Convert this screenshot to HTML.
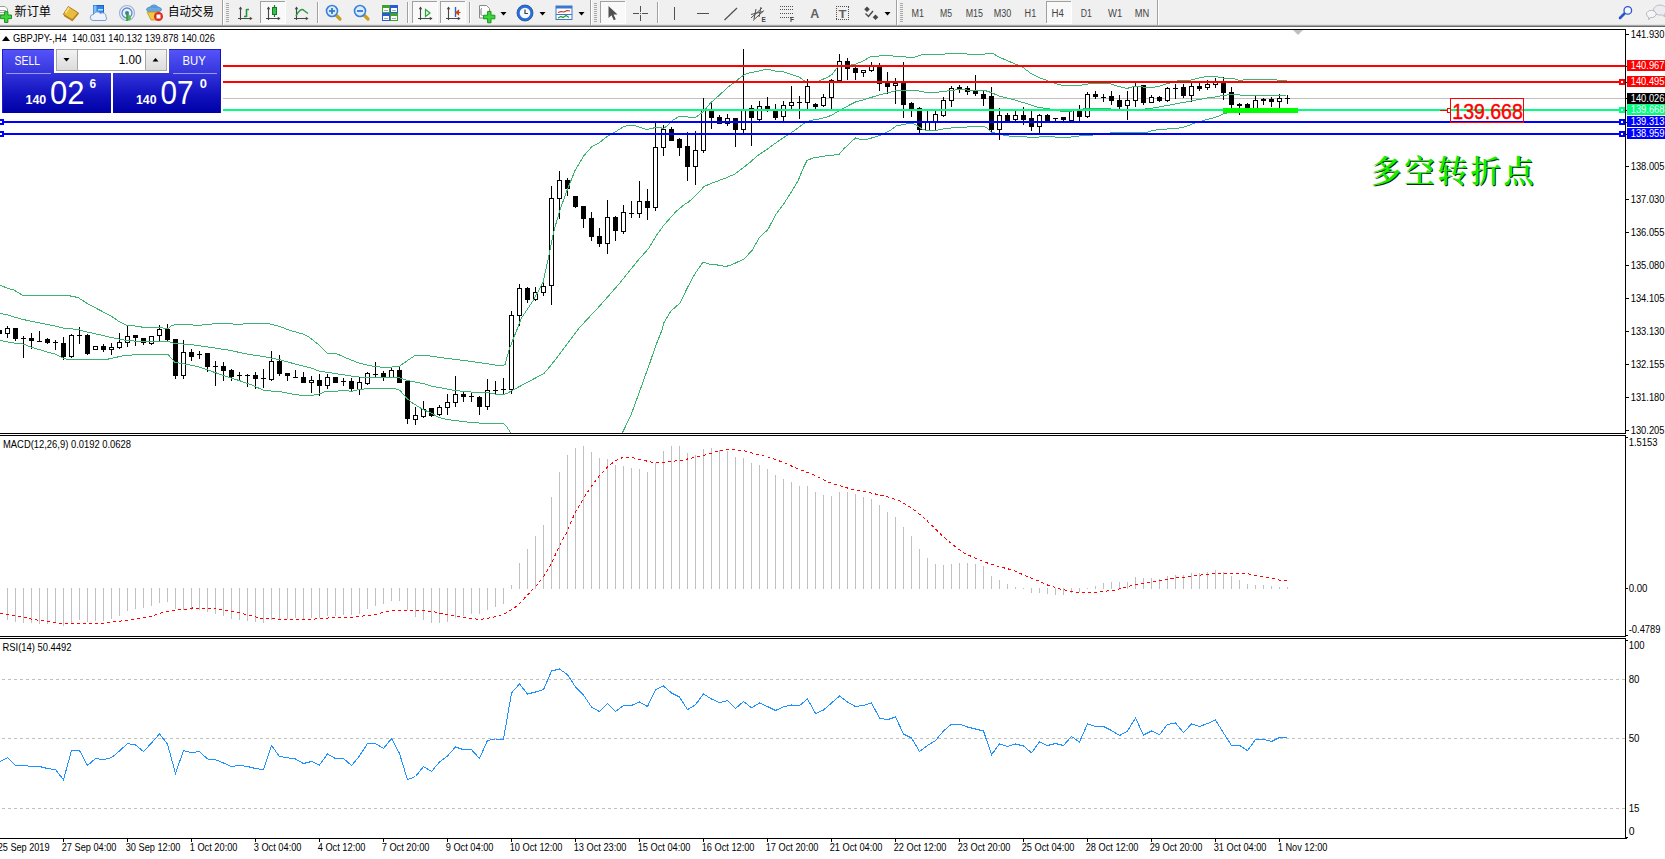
<!DOCTYPE html><html><head><meta charset="utf-8"><title>GBPJPY H4</title>
<style>html,body{margin:0;padding:0;background:#fff;overflow:hidden}svg{display:block}text{font-family:"Liberation Sans","Noto Sans CJK SC",sans-serif;white-space:pre}.cr{shape-rendering:crispEdges}.serif{font-family:"Liberation Serif","Noto Serif CJK SC",serif}</style></head><body>
<svg width="1665" height="859" viewBox="0 0 1665 859">
<defs>
<linearGradient id="gs" x1="0" y1="0" x2="0" y2="1"><stop offset="0" stop-color="#5555fa"/><stop offset="1" stop-color="#3434dc"/></linearGradient>
<linearGradient id="gp" x1="0" y1="0" x2="0" y2="1"><stop offset="0" stop-color="#3434dc"/><stop offset="0.55" stop-color="#1212be"/><stop offset="1" stop-color="#0000a6"/></linearGradient>
<linearGradient id="gb" x1="0" y1="0" x2="0" y2="1"><stop offset="0" stop-color="#f2f2f2"/><stop offset="1" stop-color="#dcdcdc"/></linearGradient>
<clipPath id="cm"><rect x="0" y="30" width="1625" height="403"/></clipPath>
<clipPath id="cd"><rect x="0" y="436" width="1625" height="200"/></clipPath>
<clipPath id="cr"><rect x="0" y="639" width="1625" height="199"/></clipPath>
</defs>
<rect x="0" y="0" width="1665" height="859" fill="#fff" />
<g class="cr">
<rect x="0" y="0" width="1665" height="25" fill="#f0f0f0"/>
<rect x="0" y="24" width="1665" height="1" fill="#e3e3e3"/>
<rect x="0" y="25" width="1665" height="1" fill="#a8a8a8"/>
<rect x="0" y="26" width="1665" height="1" fill="#6a6a6a"/>
<rect x="222" y="0" width="1" height="25" fill="#a0a0a0"/><rect x="223" y="0" width="1" height="25" fill="#fff"/>
<rect x="896" y="0" width="1" height="25" fill="#a0a0a0"/><rect x="897" y="0" width="1" height="25" fill="#fff"/>
<rect x="1157" y="0" width="1" height="25" fill="#a0a0a0"/><rect x="1158" y="0" width="1" height="25" fill="#fff"/>
<rect x="590" y="0" width="1" height="25" fill="#a0a0a0"/><rect x="591" y="0" width="1" height="25" fill="#fff"/>
<rect x="317" y="2" width="1" height="21" fill="#a0a0a0"/><rect x="318" y="2" width="1" height="21" fill="#fff"/>
<rect x="407" y="2" width="1" height="21" fill="#a0a0a0"/><rect x="408" y="2" width="1" height="21" fill="#fff"/>
<rect x="469" y="2" width="1" height="21" fill="#a0a0a0"/><rect x="470" y="2" width="1" height="21" fill="#fff"/>
<rect x="657" y="2" width="1" height="21" fill="#a0a0a0"/><rect x="658" y="2" width="1" height="21" fill="#fff"/>
<rect x="226" y="3" width="3" height="1" fill="#a8a8a8"/>
<rect x="226" y="5" width="3" height="1" fill="#a8a8a8"/>
<rect x="226" y="7" width="3" height="1" fill="#a8a8a8"/>
<rect x="226" y="9" width="3" height="1" fill="#a8a8a8"/>
<rect x="226" y="11" width="3" height="1" fill="#a8a8a8"/>
<rect x="226" y="13" width="3" height="1" fill="#a8a8a8"/>
<rect x="226" y="15" width="3" height="1" fill="#a8a8a8"/>
<rect x="226" y="17" width="3" height="1" fill="#a8a8a8"/>
<rect x="226" y="19" width="3" height="1" fill="#a8a8a8"/>
<rect x="226" y="21" width="3" height="1" fill="#a8a8a8"/>
<rect x="594" y="3" width="3" height="1" fill="#a8a8a8"/>
<rect x="594" y="5" width="3" height="1" fill="#a8a8a8"/>
<rect x="594" y="7" width="3" height="1" fill="#a8a8a8"/>
<rect x="594" y="9" width="3" height="1" fill="#a8a8a8"/>
<rect x="594" y="11" width="3" height="1" fill="#a8a8a8"/>
<rect x="594" y="13" width="3" height="1" fill="#a8a8a8"/>
<rect x="594" y="15" width="3" height="1" fill="#a8a8a8"/>
<rect x="594" y="17" width="3" height="1" fill="#a8a8a8"/>
<rect x="594" y="19" width="3" height="1" fill="#a8a8a8"/>
<rect x="594" y="21" width="3" height="1" fill="#a8a8a8"/>
<rect x="900" y="3" width="3" height="1" fill="#a8a8a8"/>
<rect x="900" y="5" width="3" height="1" fill="#a8a8a8"/>
<rect x="900" y="7" width="3" height="1" fill="#a8a8a8"/>
<rect x="900" y="9" width="3" height="1" fill="#a8a8a8"/>
<rect x="900" y="11" width="3" height="1" fill="#a8a8a8"/>
<rect x="900" y="13" width="3" height="1" fill="#a8a8a8"/>
<rect x="900" y="15" width="3" height="1" fill="#a8a8a8"/>
<rect x="900" y="17" width="3" height="1" fill="#a8a8a8"/>
<rect x="900" y="19" width="3" height="1" fill="#a8a8a8"/>
<rect x="900" y="21" width="3" height="1" fill="#a8a8a8"/>
<rect x="260" y="1" width="26" height="23" fill="#f9f9f9"/>
<rect x="260" y="1" width="26" height="1" fill="#a0a0a0"/><rect x="260" y="1" width="1" height="23" fill="#a0a0a0"/>
<rect x="260" y="23" width="26" height="1" fill="#fff"/><rect x="285" y="1" width="1" height="23" fill="#fff"/>
<rect x="412" y="1" width="26" height="23" fill="#f9f9f9"/>
<rect x="412" y="1" width="26" height="1" fill="#a0a0a0"/><rect x="412" y="1" width="1" height="23" fill="#a0a0a0"/>
<rect x="412" y="23" width="26" height="1" fill="#fff"/><rect x="437" y="1" width="1" height="23" fill="#fff"/>
<rect x="440" y="1" width="26" height="23" fill="#f9f9f9"/>
<rect x="440" y="1" width="26" height="1" fill="#a0a0a0"/><rect x="440" y="1" width="1" height="23" fill="#a0a0a0"/>
<rect x="440" y="23" width="26" height="1" fill="#fff"/><rect x="465" y="1" width="1" height="23" fill="#fff"/>
<rect x="600" y="1" width="26" height="23" fill="#f9f9f9"/>
<rect x="600" y="1" width="26" height="1" fill="#a0a0a0"/><rect x="600" y="1" width="1" height="23" fill="#a0a0a0"/>
<rect x="600" y="23" width="26" height="1" fill="#fff"/><rect x="625" y="1" width="1" height="23" fill="#fff"/>
<rect x="1046" y="1" width="26" height="23" fill="#f9f9f9"/>
<rect x="1046" y="1" width="26" height="1" fill="#a0a0a0"/><rect x="1046" y="1" width="1" height="23" fill="#a0a0a0"/>
<rect x="1046" y="23" width="26" height="1" fill="#fff"/><rect x="1071" y="1" width="1" height="23" fill="#fff"/>
</g>
<g><path d="M-0.5 6.5h5.5l2.5 2.5v6h-8z" fill="#fff" stroke="#9a9a9a"/><path d="M0 10.5h6M0 12.5h6" stroke="#a8a8a8" stroke-width="1"/><path d="M4.6 11.6h3.3v3.4h3.6v3.6h-3.6v3.9h-3.3v-3.9h-4.2v-3.6h4.2z" fill="#3ad63a" stroke="#128a12" stroke-width="0.9"/></g>
<text x="14.5" y="16" font-size="12" fill="#000" textLength="36.5" lengthAdjust="spacingAndGlyphs">新订单</text>
<path d="M63.3 14.3l5-7.8 10.2 6.5-6.3 7.3z" fill="#e8bc3c" stroke="#a8741a" stroke-width="0.9"/><path d="M64 15.2l8.3 5 6-7" fill="none" stroke="#b8801c" stroke-width="1.6"/><path d="M65.5 13l3.5-5.5" stroke="#f9e28a" stroke-width="1.6"/>
<rect x="93.5" y="5.5" width="10" height="9.5" fill="#2f86e6" stroke="#1f62c0"/><rect x="93.5" y="5.5" width="3" height="9.5" fill="#7cc0ff"/><rect x="98" y="9" width="5" height="1.5" fill="#bfe0ff"/><path d="M93 20.5a3 3 0 0 1 0.5-6a4 4 0 0 1 7-1a3.5 3.5 0 0 1 5.5 3.5a2 2 0 0 1-1 3.5z" fill="#eef3fb" stroke="#7f9fd0" stroke-width="1"/>
<circle cx="127" cy="13" r="7.5" fill="none" stroke="#9bb4dc" stroke-width="1.2"/><circle cx="127" cy="13" r="5" fill="none" stroke="#5b88d0" stroke-width="1.3"/><path d="M127 13a7.5 7.5 0 0 1 4 6.5l-4 1.5z" fill="#58b858"/><circle cx="127" cy="13" r="2" fill="#3a78d0"/><path d="M127 13v8" stroke="#3a9a3a" stroke-width="1.6"/>
<ellipse cx="154" cy="9.5" rx="7.5" ry="3" fill="#6aa8e0" stroke="#3a78c0" stroke-width="0.8"/><path d="M150 8a4 3.5 0 0 1 8 0z" fill="#5a9ad8"/><path d="M147 12h13l-3 8h-6z" fill="#f2c84a" stroke="#c09020" stroke-width="0.8"/><circle cx="158.5" cy="16.5" r="4.5" fill="#e02a1a"/><rect x="156.5" y="14.5" width="4" height="4" fill="#fff"/>
<text x="168" y="16" font-size="12" fill="#000" textLength="46" lengthAdjust="spacingAndGlyphs">自动交易</text>
<path d="M240.5 7v13M238 18.5h14" stroke="#484848" stroke-width="1.1" fill="none"/><path d="M238.7 9.2l1.8-2.8 1.8 2.8zM249.8 16.8l2.8 1.7-2.8 1.7z" fill="#484848"/><path d="M246.5 9v8M246.5 9.5h2.5M244 16.5h2.5" stroke="#1e9a3c" stroke-width="1.6" fill="none"/>
<path d="M268.5 7v13M266 18.5h14" stroke="#484848" stroke-width="1.1" fill="none"/><path d="M266.7 9.2l1.8-2.8 1.8 2.8zM277.8 16.8l2.8 1.7-2.8 1.7z" fill="#484848"/><path d="M274.5 5v12" stroke="#157a2a" stroke-width="1.2"/><rect x="272.5" y="7.5" width="4" height="7" fill="#35c04a" stroke="#157a2a"/>
<path d="M296.5 7v13M294 18.5h14" stroke="#484848" stroke-width="1.1" fill="none"/><path d="M294.7 9.2l1.8-2.8 1.8 2.8zM305.8 16.8l2.8 1.7-2.8 1.7z" fill="#484848"/><path d="M296 16c3-6 6-8 8-5.5l4 3" stroke="#2a9a40" stroke-width="1.4" fill="none"/>
<path d="M334 13l6 6" stroke="#c8a020" stroke-width="3.2" stroke-linecap="round"/><circle cx="332" cy="11" r="5.5" fill="#d8ecff" stroke="#3a80d8" stroke-width="1.6"/><path d="M329 11h6" stroke="#3a78c8" stroke-width="1.8"/><path d="M332 8v6" stroke="#3a78c8" stroke-width="1.8"/>
<path d="M362 13l6 6" stroke="#c8a020" stroke-width="3.2" stroke-linecap="round"/><circle cx="360" cy="11" r="5.5" fill="#d8ecff" stroke="#3a80d8" stroke-width="1.6"/><path d="M357 11h6" stroke="#3a78c8" stroke-width="1.8"/>
<g class="cr"><rect x="382" y="5" width="8" height="8" fill="#3aa52a"/><rect x="390" y="5" width="8" height="8" fill="#2a5ad8"/><rect x="382" y="13" width="8" height="8" fill="#2a5ad8"/><rect x="390" y="13" width="8" height="8" fill="#3aa52a"/><rect x="383" y="8" width="6" height="4" fill="#fff"/><rect x="391" y="8" width="6" height="4" fill="#fff"/><rect x="383" y="16" width="6" height="4" fill="#fff"/><rect x="391" y="16" width="6" height="4" fill="#fff"/><rect x="384" y="10" width="4" height="1" fill="#9ab"/><rect x="392" y="10" width="4" height="1" fill="#9ab"/><rect x="384" y="18" width="4" height="1" fill="#9ab"/><rect x="392" y="18" width="4" height="1" fill="#9ab"/></g>
<path d="M420.5 7v13M418 18.5h14" stroke="#484848" stroke-width="1.1" fill="none"/><path d="M418.7 9.2l1.8-2.8 1.8 2.8zM429.8 16.8l2.8 1.7-2.8 1.7z" fill="#484848"/><path d="M425.5 9.5l4.5 3.5-4.5 3.5z" fill="#e8ffe8" stroke="#28a838" stroke-width="1.2"/>
<path d="M448.5 7v13M446 18.5h14" stroke="#484848" stroke-width="1.1" fill="none"/><path d="M446.7 9.2l1.8-2.8 1.8 2.8zM457.8 16.8l2.8 1.7-2.8 1.7z" fill="#484848"/><path d="M455.5 7v10" stroke="#2a68c0" stroke-width="1.4"/><path d="M460.5 12.5h-4M458.5 10.5l-2.5 2 2.5 2z" stroke="#d04010" stroke-width="1.2" fill="#d04010"/>
<path d="M479.5 5.5h7l3 3v9.5h-10z" fill="#fff" stroke="#8a8a8a"/><path d="M482 8.5c-1 0-1 1-1 2v3c0 1 0 2 1.5 2" fill="none" stroke="#707070"/><path d="M487.6 11.4h3.4v3.8h3.9v3.6h-3.9v4h-3.4v-4h-4v-3.6h4z" fill="#3ad63a" stroke="#128a12" stroke-width="0.9"/>
<path d="M500.5 12h6l-3 3.5z" fill="#000"/>
<circle cx="525" cy="13" r="8" fill="#2a70d8" stroke="#1a4ca0" stroke-width="0.8"/><circle cx="525" cy="13" r="5.3" fill="#f4f8ff"/><path d="M525 9.5v4h3" stroke="#404040" stroke-width="1.2" fill="none"/>
<path d="M539.5 12h6l-3 3.5z" fill="#000"/>
<rect x="556" y="6" width="16" height="13.5" fill="#fff" stroke="#3a78d0" stroke-width="1"/><rect x="556" y="6" width="16" height="2.5" fill="#3a78d0"/><path d="M556 14.5h16" stroke="#3a78d0" stroke-width="1"/><path d="M558 12.5l3-1 3 0.5 3-1.5 3 0.5" stroke="#c03020" stroke-width="1.2" fill="none"/><path d="M558 18l3-1.5 2 1 3-2 3 2" stroke="#209a30" stroke-width="1.2" fill="none"/>
<path d="M578.5 12h6l-3 3.5z" fill="#000"/>
<path d="M608.5 6v12l3-2.8 2.3 5 2-1-2.3-4.8h4z" fill="#505050"/>
<g class="cr"><rect x="640" y="6" width="1" height="15" fill="#505050"/><rect x="633" y="13" width="15" height="1" fill="#505050"/><rect x="639" y="12" width="3" height="3" fill="#f0f0f0"/><rect x="640" y="13" width="1" height="1" fill="#505050"/></g>
<g class="cr"><rect x="674" y="7" width="1" height="13" fill="#505050"/><rect x="697" y="13" width="12" height="1" fill="#505050"/></g>
<path d="M724.5 20l12.5-12" stroke="#505050" stroke-width="1.2"/>
<path d="M751 18l11-10M753 20.5l11-10M751 14.5l12-3M754 19l2-10M759 17l2-10" stroke="#505050" stroke-width="1" fill="none"/><text x="761.5" y="21.5" font-size="6.5" font-weight="bold" fill="#404040">E</text>
<g class="cr"><rect x="780" y="6" width="1" height="1" fill="#505050"/><rect x="782" y="6" width="1" height="1" fill="#505050"/><rect x="784" y="6" width="1" height="1" fill="#505050"/><rect x="786" y="6" width="1" height="1" fill="#505050"/><rect x="788" y="6" width="1" height="1" fill="#505050"/><rect x="790" y="6" width="1" height="1" fill="#505050"/><rect x="792" y="6" width="1" height="1" fill="#505050"/><rect x="780" y="9" width="1" height="1" fill="#505050"/><rect x="782" y="9" width="1" height="1" fill="#505050"/><rect x="784" y="9" width="1" height="1" fill="#505050"/><rect x="786" y="9" width="1" height="1" fill="#505050"/><rect x="788" y="9" width="1" height="1" fill="#505050"/><rect x="790" y="9" width="1" height="1" fill="#505050"/><rect x="792" y="9" width="1" height="1" fill="#505050"/><rect x="780" y="13" width="1" height="1" fill="#505050"/><rect x="782" y="13" width="1" height="1" fill="#505050"/><rect x="784" y="13" width="1" height="1" fill="#505050"/><rect x="786" y="13" width="1" height="1" fill="#505050"/><rect x="788" y="13" width="1" height="1" fill="#505050"/><rect x="790" y="13" width="1" height="1" fill="#505050"/><rect x="792" y="13" width="1" height="1" fill="#505050"/><rect x="780" y="17" width="1" height="1" fill="#505050"/><rect x="782" y="17" width="1" height="1" fill="#505050"/><rect x="784" y="17" width="1" height="1" fill="#505050"/><rect x="786" y="17" width="1" height="1" fill="#505050"/><rect x="788" y="17" width="1" height="1" fill="#505050"/><rect x="790" y="17" width="1" height="1" fill="#505050"/><rect x="792" y="17" width="1" height="1" fill="#505050"/></g><text x="790" y="21.5" font-size="6.5" font-weight="bold" fill="#404040">F</text>
<text x="810.2" y="17.8" font-size="12" font-weight="bold" fill="#606060" textLength="9" lengthAdjust="spacingAndGlyphs">A</text>
<g class="cr"><rect x="836" y="6" width="1" height="1" fill="#505050"/><rect x="836" y="19" width="1" height="1" fill="#505050"/><rect x="838" y="6" width="1" height="1" fill="#505050"/><rect x="838" y="19" width="1" height="1" fill="#505050"/><rect x="840" y="6" width="1" height="1" fill="#505050"/><rect x="840" y="19" width="1" height="1" fill="#505050"/><rect x="842" y="6" width="1" height="1" fill="#505050"/><rect x="842" y="19" width="1" height="1" fill="#505050"/><rect x="844" y="6" width="1" height="1" fill="#505050"/><rect x="844" y="19" width="1" height="1" fill="#505050"/><rect x="846" y="6" width="1" height="1" fill="#505050"/><rect x="846" y="19" width="1" height="1" fill="#505050"/><rect x="848" y="6" width="1" height="1" fill="#505050"/><rect x="848" y="19" width="1" height="1" fill="#505050"/><rect x="836" y="6" width="1" height="1" fill="#505050"/><rect x="848" y="7" width="1" height="1" fill="#505050"/><rect x="836" y="8" width="1" height="1" fill="#505050"/><rect x="848" y="9" width="1" height="1" fill="#505050"/><rect x="836" y="10" width="1" height="1" fill="#505050"/><rect x="848" y="11" width="1" height="1" fill="#505050"/><rect x="836" y="12" width="1" height="1" fill="#505050"/><rect x="848" y="13" width="1" height="1" fill="#505050"/><rect x="836" y="14" width="1" height="1" fill="#505050"/><rect x="848" y="15" width="1" height="1" fill="#505050"/><rect x="836" y="16" width="1" height="1" fill="#505050"/><rect x="848" y="17" width="1" height="1" fill="#505050"/><rect x="836" y="18" width="1" height="1" fill="#505050"/><rect x="848" y="19" width="1" height="1" fill="#505050"/></g><text x="838.5" y="17.5" font-size="11.5" font-weight="bold" fill="#606060" textLength="8" lengthAdjust="spacingAndGlyphs">T</text>
<path d="M867 6.5l2.8 2.8-2.8 2.8-2.8-2.8zM875.5 14.5l2.8 2.8-2.8 2.8-2.8-2.8z" fill="#484848"/><path d="M865.5 13.5l3 3 4.5-5.5" stroke="#484848" stroke-width="1.4" fill="none"/>
<path d="M884.5 12h6l-3 3.5z" fill="#000"/>
<text x="911.5" y="16.7" font-size="10" fill="#454545" textLength="12.5" lengthAdjust="spacingAndGlyphs">M1</text>
<text x="940" y="16.7" font-size="10" fill="#454545" textLength="12" lengthAdjust="spacingAndGlyphs">M5</text>
<text x="965.7" y="16.7" font-size="10" fill="#454545" textLength="17.3" lengthAdjust="spacingAndGlyphs">M15</text>
<text x="993.7" y="16.7" font-size="10" fill="#454545" textLength="17.6" lengthAdjust="spacingAndGlyphs">M30</text>
<text x="1024.6" y="16.7" font-size="10" fill="#454545" textLength="11.6" lengthAdjust="spacingAndGlyphs">H1</text>
<text x="1051.4" y="16.7" font-size="10" fill="#454545" textLength="12.4" lengthAdjust="spacingAndGlyphs">H4</text>
<text x="1080.8" y="16.7" font-size="10" fill="#454545" textLength="11.1" lengthAdjust="spacingAndGlyphs">D1</text>
<text x="1108" y="16.7" font-size="10" fill="#454545" textLength="14.2" lengthAdjust="spacingAndGlyphs">W1</text>
<text x="1134.7" y="16.7" font-size="10" fill="#454545" textLength="14.5" lengthAdjust="spacingAndGlyphs">MN</text>
<path d="M1624.5 13.5l-4.5 4.5" stroke="#2a55cc" stroke-width="2.6" stroke-linecap="round"/><circle cx="1627.8" cy="10.4" r="3.8" fill="#f4f7ff" stroke="#2a55cc" stroke-width="1.3"/>
<path d="M1653.5 10a6.5 5 0 0 1 13 0a6.5 5 0 0 1-2.5 4.3l0.8 2.4-3-1.8a6.5 5 0 0 1-8.3-4.9z" fill="#ececf2" stroke="#b0b0b8" stroke-width="0.8"/><path d="M1646.5 14a4.8 3.6 0 1 1 3.8 3.5l-1.5 2.2-0.2-2.5a4.8 3.6 0 0 1-2.1-3.2z" fill="#f6f6fa" stroke="#a8a8b0" stroke-width="0.8"/>
<g class="cr">
<rect x="0" y="98" width="1625" height="1" fill="#c0c0c0" />
<line x1="0" y1="679.5" x2="1625" y2="679.5" stroke="#c0c0c0" stroke-width="1" stroke-dasharray="3 3" stroke-dashoffset="-2"/>
<line x1="0" y1="738.5" x2="1625" y2="738.5" stroke="#c0c0c0" stroke-width="1" stroke-dasharray="3 3" stroke-dashoffset="-2"/>
<line x1="0" y1="808.5" x2="1625" y2="808.5" stroke="#c0c0c0" stroke-width="1" stroke-dasharray="3 3" stroke-dashoffset="-2"/>
</g>
<g class="cr" clip-path="url(#cd)">
<rect x="7" y="588" width="1" height="32" fill="#c0c0c0" />
<rect x="15" y="588" width="1" height="34" fill="#c0c0c0" />
<rect x="23" y="588" width="1" height="35" fill="#c0c0c0" />
<rect x="31" y="588" width="1" height="35" fill="#c0c0c0" />
<rect x="39" y="588" width="1" height="36" fill="#c0c0c0" />
<rect x="47" y="588" width="1" height="36" fill="#c0c0c0" />
<rect x="55" y="588" width="1" height="35" fill="#c0c0c0" />
<rect x="63" y="588" width="1" height="38" fill="#c0c0c0" />
<rect x="71" y="588" width="1" height="36" fill="#c0c0c0" />
<rect x="79" y="588" width="1" height="32" fill="#c0c0c0" />
<rect x="87" y="588" width="1" height="34" fill="#c0c0c0" />
<rect x="95" y="588" width="1" height="33" fill="#c0c0c0" />
<rect x="103" y="588" width="1" height="33" fill="#c0c0c0" />
<rect x="111" y="588" width="1" height="31" fill="#c0c0c0" />
<rect x="119" y="588" width="1" height="28" fill="#c0c0c0" />
<rect x="127" y="588" width="1" height="23" fill="#c0c0c0" />
<rect x="135" y="588" width="1" height="21" fill="#c0c0c0" />
<rect x="143" y="588" width="1" height="20" fill="#c0c0c0" />
<rect x="151" y="588" width="1" height="18" fill="#c0c0c0" />
<rect x="159" y="588" width="1" height="15" fill="#c0c0c0" />
<rect x="167" y="588" width="1" height="14" fill="#c0c0c0" />
<rect x="175" y="588" width="1" height="21" fill="#c0c0c0" />
<rect x="183" y="588" width="1" height="22" fill="#c0c0c0" />
<rect x="191" y="588" width="1" height="22" fill="#c0c0c0" />
<rect x="199" y="588" width="1" height="22" fill="#c0c0c0" />
<rect x="207" y="588" width="1" height="24" fill="#c0c0c0" />
<rect x="215" y="588" width="1" height="26" fill="#c0c0c0" />
<rect x="223" y="588" width="1" height="28" fill="#c0c0c0" />
<rect x="231" y="588" width="1" height="31" fill="#c0c0c0" />
<rect x="239" y="588" width="1" height="32" fill="#c0c0c0" />
<rect x="247" y="588" width="1" height="33" fill="#c0c0c0" />
<rect x="255" y="588" width="1" height="34" fill="#c0c0c0" />
<rect x="263" y="588" width="1" height="35" fill="#c0c0c0" />
<rect x="271" y="588" width="1" height="32" fill="#c0c0c0" />
<rect x="279" y="588" width="1" height="31" fill="#c0c0c0" />
<rect x="287" y="588" width="1" height="31" fill="#c0c0c0" />
<rect x="295" y="588" width="1" height="30" fill="#c0c0c0" />
<rect x="303" y="588" width="1" height="31" fill="#c0c0c0" />
<rect x="311" y="588" width="1" height="30" fill="#c0c0c0" />
<rect x="319" y="588" width="1" height="30" fill="#c0c0c0" />
<rect x="327" y="588" width="1" height="28" fill="#c0c0c0" />
<rect x="335" y="588" width="1" height="28" fill="#c0c0c0" />
<rect x="343" y="588" width="1" height="27" fill="#c0c0c0" />
<rect x="351" y="588" width="1" height="27" fill="#c0c0c0" />
<rect x="359" y="588" width="1" height="26" fill="#c0c0c0" />
<rect x="367" y="588" width="1" height="21" fill="#c0c0c0" />
<rect x="375" y="588" width="1" height="18" fill="#c0c0c0" />
<rect x="383" y="588" width="1" height="16" fill="#c0c0c0" />
<rect x="391" y="588" width="1" height="13" fill="#c0c0c0" />
<rect x="399" y="588" width="1" height="13" fill="#c0c0c0" />
<rect x="407" y="588" width="1" height="22" fill="#c0c0c0" />
<rect x="415" y="588" width="1" height="29" fill="#c0c0c0" />
<rect x="423" y="588" width="1" height="32" fill="#c0c0c0" />
<rect x="431" y="588" width="1" height="35" fill="#c0c0c0" />
<rect x="439" y="588" width="1" height="35" fill="#c0c0c0" />
<rect x="447" y="588" width="1" height="34" fill="#c0c0c0" />
<rect x="455" y="588" width="1" height="30" fill="#c0c0c0" />
<rect x="463" y="588" width="1" height="28" fill="#c0c0c0" />
<rect x="471" y="588" width="1" height="26" fill="#c0c0c0" />
<rect x="479" y="588" width="1" height="26" fill="#c0c0c0" />
<rect x="487" y="588" width="1" height="22" fill="#c0c0c0" />
<rect x="495" y="588" width="1" height="19" fill="#c0c0c0" />
<rect x="503" y="588" width="1" height="16" fill="#c0c0c0" />
<rect x="511" y="585" width="1" height="4" fill="#c0c0c0" />
<rect x="519" y="563" width="1" height="26" fill="#c0c0c0" />
<rect x="527" y="549" width="1" height="40" fill="#c0c0c0" />
<rect x="535" y="536" width="1" height="53" fill="#c0c0c0" />
<rect x="543" y="525" width="1" height="64" fill="#c0c0c0" />
<rect x="551" y="497" width="1" height="92" fill="#c0c0c0" />
<rect x="559" y="472" width="1" height="117" fill="#c0c0c0" />
<rect x="567" y="455" width="1" height="134" fill="#c0c0c0" />
<rect x="575" y="448" width="1" height="141" fill="#c0c0c0" />
<rect x="583" y="446" width="1" height="143" fill="#c0c0c0" />
<rect x="591" y="452" width="1" height="137" fill="#c0c0c0" />
<rect x="599" y="458" width="1" height="131" fill="#c0c0c0" />
<rect x="607" y="459" width="1" height="130" fill="#c0c0c0" />
<rect x="615" y="465" width="1" height="124" fill="#c0c0c0" />
<rect x="623" y="466" width="1" height="123" fill="#c0c0c0" />
<rect x="631" y="468" width="1" height="121" fill="#c0c0c0" />
<rect x="639" y="469" width="1" height="120" fill="#c0c0c0" />
<rect x="647" y="472" width="1" height="117" fill="#c0c0c0" />
<rect x="655" y="463" width="1" height="126" fill="#c0c0c0" />
<rect x="663" y="451" width="1" height="138" fill="#c0c0c0" />
<rect x="671" y="446" width="1" height="143" fill="#c0c0c0" />
<rect x="679" y="446" width="1" height="143" fill="#c0c0c0" />
<rect x="687" y="453" width="1" height="136" fill="#c0c0c0" />
<rect x="695" y="455" width="1" height="134" fill="#c0c0c0" />
<rect x="703" y="449" width="1" height="140" fill="#c0c0c0" />
<rect x="711" y="448" width="1" height="141" fill="#c0c0c0" />
<rect x="719" y="450" width="1" height="139" fill="#c0c0c0" />
<rect x="727" y="451" width="1" height="138" fill="#c0c0c0" />
<rect x="735" y="457" width="1" height="132" fill="#c0c0c0" />
<rect x="743" y="458" width="1" height="131" fill="#c0c0c0" />
<rect x="751" y="463" width="1" height="126" fill="#c0c0c0" />
<rect x="759" y="465" width="1" height="124" fill="#c0c0c0" />
<rect x="767" y="469" width="1" height="120" fill="#c0c0c0" />
<rect x="775" y="475" width="1" height="114" fill="#c0c0c0" />
<rect x="783" y="479" width="1" height="110" fill="#c0c0c0" />
<rect x="791" y="482" width="1" height="107" fill="#c0c0c0" />
<rect x="799" y="486" width="1" height="103" fill="#c0c0c0" />
<rect x="807" y="486" width="1" height="103" fill="#c0c0c0" />
<rect x="815" y="492" width="1" height="97" fill="#c0c0c0" />
<rect x="823" y="495" width="1" height="94" fill="#c0c0c0" />
<rect x="831" y="496" width="1" height="93" fill="#c0c0c0" />
<rect x="839" y="492" width="1" height="97" fill="#c0c0c0" />
<rect x="847" y="492" width="1" height="97" fill="#c0c0c0" />
<rect x="855" y="494" width="1" height="95" fill="#c0c0c0" />
<rect x="863" y="497" width="1" height="92" fill="#c0c0c0" />
<rect x="871" y="499" width="1" height="90" fill="#c0c0c0" />
<rect x="879" y="505" width="1" height="84" fill="#c0c0c0" />
<rect x="887" y="512" width="1" height="77" fill="#c0c0c0" />
<rect x="895" y="517" width="1" height="72" fill="#c0c0c0" />
<rect x="903" y="527" width="1" height="62" fill="#c0c0c0" />
<rect x="911" y="536" width="1" height="53" fill="#c0c0c0" />
<rect x="919" y="549" width="1" height="40" fill="#c0c0c0" />
<rect x="927" y="558" width="1" height="31" fill="#c0c0c0" />
<rect x="935" y="564" width="1" height="25" fill="#c0c0c0" />
<rect x="943" y="565" width="1" height="24" fill="#c0c0c0" />
<rect x="951" y="564" width="1" height="25" fill="#c0c0c0" />
<rect x="959" y="563" width="1" height="26" fill="#c0c0c0" />
<rect x="967" y="563" width="1" height="26" fill="#c0c0c0" />
<rect x="975" y="564" width="1" height="25" fill="#c0c0c0" />
<rect x="983" y="566" width="1" height="23" fill="#c0c0c0" />
<rect x="991" y="576" width="1" height="13" fill="#c0c0c0" />
<rect x="999" y="580" width="1" height="9" fill="#c0c0c0" />
<rect x="1007" y="584" width="1" height="5" fill="#c0c0c0" />
<rect x="1015" y="587" width="1" height="2" fill="#c0c0c0" />
<rect x="1023" y="588" width="1" height="1" fill="#c0c0c0" />
<rect x="1031" y="588" width="1" height="5" fill="#c0c0c0" />
<rect x="1039" y="588" width="1" height="5" fill="#c0c0c0" />
<rect x="1047" y="588" width="1" height="6" fill="#c0c0c0" />
<rect x="1055" y="588" width="1" height="7" fill="#c0c0c0" />
<rect x="1063" y="588" width="1" height="7" fill="#c0c0c0" />
<rect x="1071" y="588" width="1" height="5" fill="#c0c0c0" />
<rect x="1079" y="588" width="1" height="4" fill="#c0c0c0" />
<rect x="1087" y="588" width="1" height="1" fill="#c0c0c0" />
<rect x="1095" y="586" width="1" height="3" fill="#c0c0c0" />
<rect x="1103" y="583" width="1" height="6" fill="#c0c0c0" />
<rect x="1111" y="582" width="1" height="7" fill="#c0c0c0" />
<rect x="1119" y="582" width="1" height="7" fill="#c0c0c0" />
<rect x="1127" y="582" width="1" height="7" fill="#c0c0c0" />
<rect x="1135" y="577" width="1" height="12" fill="#c0c0c0" />
<rect x="1143" y="578" width="1" height="11" fill="#c0c0c0" />
<rect x="1151" y="578" width="1" height="11" fill="#c0c0c0" />
<rect x="1159" y="579" width="1" height="10" fill="#c0c0c0" />
<rect x="1167" y="576" width="1" height="13" fill="#c0c0c0" />
<rect x="1175" y="575" width="1" height="14" fill="#c0c0c0" />
<rect x="1183" y="575" width="1" height="14" fill="#c0c0c0" />
<rect x="1191" y="573" width="1" height="16" fill="#c0c0c0" />
<rect x="1199" y="573" width="1" height="16" fill="#c0c0c0" />
<rect x="1207" y="572" width="1" height="17" fill="#c0c0c0" />
<rect x="1215" y="570" width="1" height="19" fill="#c0c0c0" />
<rect x="1223" y="572" width="1" height="17" fill="#c0c0c0" />
<rect x="1231" y="576" width="1" height="13" fill="#c0c0c0" />
<rect x="1239" y="580" width="1" height="9" fill="#c0c0c0" />
<rect x="1247" y="584" width="1" height="5" fill="#c0c0c0" />
<rect x="1255" y="585" width="1" height="4" fill="#c0c0c0" />
<rect x="1263" y="585" width="1" height="4" fill="#c0c0c0" />
<rect x="1271" y="586" width="1" height="3" fill="#c0c0c0" />
<rect x="1279" y="587" width="1" height="2" fill="#c0c0c0" />
<rect x="1287" y="587" width="1" height="2" fill="#c0c0c0" />
</g>
<polyline class="cr" clip-path="url(#cd)" points="0,613 15,615.7 25,617.5 31,619 40,620.5 55,622.5 62.5,623.5 72,623.5 105,623 115,621.7 130,620 150,616.7 162.5,612.5 175,610 187.5,609 192.5,608 212.5,608.5 225,610.5 240,613 252.5,616 262.5,618.7 275,619 300,620 315,619 332,617.7 355,617 375,614.5 390,611 400,610.5 425,610.7 435,612 450,615.5 465,617.5 480,619.5 492.5,617.5 505,613.7 517.5,605.7 527.5,595 536,586 544,576 550,566 560,545 567.5,531 575,512.5 584,497.5 591,487 600,475 607.5,467 615,461 622.5,457.5 632.5,457.5 640,459.5 655,463 665,462 680,460.5 695,457.5 710,453.7 720,450.5 730,449.5 745,451 755,453.7 770,457.5 785,463 800,470 804,471 815,475.5 827.5,482 840,485.7 852.5,489.5 865,491.5 877.5,494.5 890,497.5 900,501 912.5,508.7 925,518.7 940,533.7 952.5,544.5 965,553.7 977.5,559 990,564 1002.5,567.5 1012.5,570 1025,575.5 1035,579.5 1047.5,585 1060,589 1072.5,591.7 1087.5,593 1100,592 1115,590 1130,586 1145,583 1160,580.5 1176,578 1189,576.6 1195,575.6 1201,575 1212.5,574 1219,573.5 1242.5,573.5 1249,574 1255,575.5 1261,576.5 1267,577.5 1272.5,578.5 1279,580 1287,581" fill="none" stroke="#ff0000" stroke-width="1" stroke-dasharray="3 3"/>
<polyline class="cr" clip-path="url(#cr)" points="-0.5,762 7.5,757.7 15.5,765.5 23.5,765.5 31.5,766.5 39.5,766.5 47.5,768.5 55.5,769.7 63.5,779.7 71.5,750.5 79.5,750.5 87.5,765.5 95.5,758.5 103.5,759.7 111.5,757.7 119.5,751 127.5,743.5 135.5,745 143.5,751.5 151.5,743 159.5,734 167.5,744 175.5,773.5 183.5,750.5 191.5,752.7 199.5,751.5 207.5,759 215.5,759.7 223.5,763 231.5,766.5 239.5,765.5 247.5,766.5 255.5,768.5 263.5,769.7 271.5,745.5 279.5,756.5 287.5,757.7 295.5,759 303.5,763.5 311.5,761.5 319.5,765 327.5,754 335.5,758.5 343.5,758.5 351.5,765.5 359.5,756 367.5,743.5 375.5,743.5 383.5,748.5 391.5,738.5 399.5,753.5 407.5,779.7 415.5,776.5 423.5,766.5 431.5,771.5 439.5,762 447.5,756 455.5,747 463.5,749.7 471.5,749.7 479.5,758.5 487.5,740.5 495.5,739 503.5,739 511.5,693 519.5,684 527.5,694 535.5,692 543.5,689.7 551.5,671 559.5,669 567.5,674.7 575.5,687 583.5,695 591.5,707 599.5,711.5 607.5,703.5 615.5,711.5 623.5,705.5 631.5,705.5 639.5,702 647.5,706.5 655.5,689.7 663.5,686 671.5,693 679.5,697 687.5,709.7 695.5,704.7 703.5,694 711.5,699 719.5,702.7 727.5,700.5 735.5,708.5 743.5,701.5 751.5,707.7 759.5,703 767.5,706.5 775.5,710.5 783.5,706.7 791.5,705 799.5,705.5 807.5,699 815.5,713.5 823.5,710 831.5,703 839.5,696 847.5,702 855.5,706.5 863.5,705.5 871.5,703 879.5,718 887.5,719.7 895.5,717 903.5,734 911.5,738 919.5,751.5 927.5,745.5 935.5,740.5 943.5,731 951.5,724 959.5,724 967.5,727 975.5,729 983.5,731 991.5,754.7 999.5,744 1007.5,746.5 1015.5,744 1023.5,746 1031.5,752.7 1039.5,742 1047.5,745.5 1055.5,743.5 1063.5,745.5 1071.5,736.5 1079.5,742 1087.5,724 1095.5,726.5 1103.5,726.5 1111.5,730.5 1119.5,735.5 1127.5,731 1135.5,718 1143.5,735 1151.5,731 1159.5,734.7 1167.5,724.4 1175.5,723 1183.5,732.5 1191.5,724 1199.5,726.5 1207.5,723.5 1215.5,720 1223.5,733 1231.5,745.4 1239.5,745.4 1247.5,750.6 1255.5,739.6 1263.5,739.4 1271.5,741.5 1279.5,737.5 1287.5,737" fill="none" stroke="#1e90ff" stroke-width="1"/>
<g class="cr" clip-path="url(#cm)">
<rect x="-1" y="330" width="1" height="4" fill="#000" />
<rect x="-3" y="330" width="5" height="4" fill="#000" />
<rect x="7" y="326" width="1" height="12" fill="#000" />
<rect x="5" y="328" width="5" height="6" fill="#000" />
<rect x="6" y="329" width="3" height="4" fill="#fff" />
<rect x="15" y="328" width="1" height="13" fill="#000" />
<rect x="13" y="328" width="5" height="11" fill="#000" />
<rect x="23" y="336" width="1" height="22" fill="#000" />
<rect x="21" y="338" width="5" height="1" fill="#000" />
<rect x="31" y="333" width="1" height="16" fill="#000" />
<rect x="29" y="338" width="5" height="3" fill="#000" />
<rect x="39" y="331" width="1" height="11" fill="#000" />
<rect x="37" y="341" width="5" height="1" fill="#000" />
<rect x="47" y="338" width="1" height="6" fill="#000" />
<rect x="45" y="339" width="5" height="4" fill="#000" />
<rect x="55" y="340" width="1" height="10" fill="#000" />
<rect x="53" y="342" width="5" height="1" fill="#000" />
<rect x="63" y="337" width="1" height="23" fill="#000" />
<rect x="61" y="343" width="5" height="14" fill="#000" />
<rect x="71" y="334" width="1" height="24" fill="#000" />
<rect x="69" y="335" width="5" height="22" fill="#000" />
<rect x="70" y="336" width="3" height="20" fill="#fff" />
<rect x="79" y="327" width="1" height="17" fill="#000" />
<rect x="77" y="335" width="5" height="1" fill="#000" />
<rect x="87" y="334" width="1" height="21" fill="#000" />
<rect x="85" y="335" width="5" height="19" fill="#000" />
<rect x="95" y="346" width="1" height="4" fill="#000" />
<rect x="93" y="346" width="5" height="4" fill="#000" />
<rect x="94" y="347" width="3" height="2" fill="#fff" />
<rect x="103" y="344" width="1" height="8" fill="#000" />
<rect x="101" y="346" width="5" height="4" fill="#000" />
<rect x="111" y="343" width="1" height="12" fill="#000" />
<rect x="109" y="347" width="5" height="3" fill="#000" />
<rect x="110" y="348" width="3" height="1" fill="#fff" />
<rect x="119" y="333" width="1" height="16" fill="#000" />
<rect x="117" y="342" width="5" height="6" fill="#000" />
<rect x="118" y="343" width="3" height="4" fill="#fff" />
<rect x="127" y="326" width="1" height="21" fill="#000" />
<rect x="125" y="336" width="5" height="7" fill="#000" />
<rect x="126" y="337" width="3" height="5" fill="#fff" />
<rect x="135" y="335" width="1" height="11" fill="#000" />
<rect x="133" y="335" width="5" height="3" fill="#000" />
<rect x="143" y="338" width="1" height="7" fill="#000" />
<rect x="141" y="338" width="5" height="5" fill="#000" />
<rect x="151" y="336" width="1" height="9" fill="#000" />
<rect x="149" y="336" width="5" height="8" fill="#000" />
<rect x="150" y="337" width="3" height="6" fill="#fff" />
<rect x="159" y="325" width="1" height="16" fill="#000" />
<rect x="157" y="329" width="5" height="7" fill="#000" />
<rect x="158" y="330" width="3" height="5" fill="#fff" />
<rect x="167" y="324" width="1" height="17" fill="#000" />
<rect x="165" y="329" width="5" height="11" fill="#000" />
<rect x="175" y="339" width="1" height="40" fill="#000" />
<rect x="173" y="339" width="5" height="37" fill="#000" />
<rect x="183" y="340" width="1" height="39" fill="#000" />
<rect x="181" y="352" width="5" height="24" fill="#000" />
<rect x="182" y="353" width="3" height="22" fill="#fff" />
<rect x="191" y="349" width="1" height="12" fill="#000" />
<rect x="189" y="352" width="5" height="5" fill="#000" />
<rect x="199" y="351" width="1" height="8" fill="#000" />
<rect x="197" y="354" width="5" height="1" fill="#000" />
<rect x="207" y="353" width="1" height="19" fill="#000" />
<rect x="205" y="353" width="5" height="14" fill="#000" />
<rect x="215" y="361" width="1" height="25" fill="#000" />
<rect x="213" y="366" width="5" height="1" fill="#000" />
<rect x="223" y="362" width="1" height="19" fill="#000" />
<rect x="221" y="366" width="5" height="5" fill="#000" />
<rect x="231" y="369" width="1" height="12" fill="#000" />
<rect x="229" y="370" width="5" height="7" fill="#000" />
<rect x="239" y="372" width="1" height="9" fill="#000" />
<rect x="237" y="375" width="5" height="1" fill="#000" />
<rect x="247" y="374" width="1" height="13" fill="#000" />
<rect x="245" y="375" width="5" height="1" fill="#000" />
<rect x="255" y="372" width="1" height="17" fill="#000" />
<rect x="253" y="375" width="5" height="4" fill="#000" />
<rect x="263" y="369" width="1" height="19" fill="#000" />
<rect x="261" y="378" width="5" height="1" fill="#000" />
<rect x="271" y="351" width="1" height="30" fill="#000" />
<rect x="269" y="361" width="5" height="19" fill="#000" />
<rect x="270" y="362" width="3" height="17" fill="#fff" />
<rect x="279" y="355" width="1" height="21" fill="#000" />
<rect x="277" y="361" width="5" height="13" fill="#000" />
<rect x="287" y="373" width="1" height="8" fill="#000" />
<rect x="285" y="373" width="5" height="3" fill="#000" />
<rect x="295" y="370" width="1" height="8" fill="#000" />
<rect x="293" y="377" width="5" height="1" fill="#000" />
<rect x="303" y="372" width="1" height="11" fill="#000" />
<rect x="301" y="377" width="5" height="6" fill="#000" />
<rect x="311" y="376" width="1" height="17" fill="#000" />
<rect x="309" y="380" width="5" height="3" fill="#000" />
<rect x="310" y="381" width="3" height="1" fill="#fff" />
<rect x="319" y="374" width="1" height="22" fill="#000" />
<rect x="317" y="380" width="5" height="6" fill="#000" />
<rect x="327" y="374" width="1" height="15" fill="#000" />
<rect x="325" y="377" width="5" height="9" fill="#000" />
<rect x="326" y="378" width="3" height="7" fill="#fff" />
<rect x="335" y="377" width="1" height="6" fill="#000" />
<rect x="333" y="377" width="5" height="6" fill="#000" />
<rect x="343" y="378" width="1" height="8" fill="#000" />
<rect x="341" y="381" width="5" height="1" fill="#000" />
<rect x="351" y="378" width="1" height="14" fill="#000" />
<rect x="349" y="381" width="5" height="8" fill="#000" />
<rect x="359" y="377" width="1" height="18" fill="#000" />
<rect x="357" y="382" width="5" height="8" fill="#000" />
<rect x="358" y="383" width="3" height="6" fill="#fff" />
<rect x="367" y="372" width="1" height="13" fill="#000" />
<rect x="365" y="373" width="5" height="11" fill="#000" />
<rect x="366" y="374" width="3" height="9" fill="#fff" />
<rect x="375" y="362" width="1" height="15" fill="#000" />
<rect x="373" y="374" width="5" height="1" fill="#000" />
<rect x="383" y="371" width="1" height="10" fill="#000" />
<rect x="381" y="373" width="5" height="5" fill="#000" />
<rect x="391" y="368" width="1" height="10" fill="#000" />
<rect x="389" y="370" width="5" height="8" fill="#000" />
<rect x="390" y="371" width="3" height="6" fill="#fff" />
<rect x="399" y="366" width="1" height="17" fill="#000" />
<rect x="397" y="370" width="5" height="13" fill="#000" />
<rect x="407" y="381" width="1" height="43" fill="#000" />
<rect x="405" y="381" width="5" height="38" fill="#000" />
<rect x="415" y="407" width="1" height="18" fill="#000" />
<rect x="413" y="415" width="5" height="5" fill="#000" />
<rect x="414" y="416" width="3" height="3" fill="#fff" />
<rect x="423" y="401" width="1" height="17" fill="#000" />
<rect x="421" y="409" width="5" height="8" fill="#000" />
<rect x="422" y="410" width="3" height="6" fill="#fff" />
<rect x="431" y="408" width="1" height="9" fill="#000" />
<rect x="429" y="408" width="5" height="8" fill="#000" />
<rect x="439" y="405" width="1" height="11" fill="#000" />
<rect x="437" y="407" width="5" height="8" fill="#000" />
<rect x="438" y="408" width="3" height="6" fill="#fff" />
<rect x="447" y="394" width="1" height="21" fill="#000" />
<rect x="445" y="402" width="5" height="6" fill="#000" />
<rect x="446" y="403" width="3" height="4" fill="#fff" />
<rect x="455" y="376" width="1" height="31" fill="#000" />
<rect x="453" y="394" width="5" height="9" fill="#000" />
<rect x="454" y="395" width="3" height="7" fill="#fff" />
<rect x="463" y="391" width="1" height="11" fill="#000" />
<rect x="461" y="394" width="5" height="3" fill="#000" />
<rect x="471" y="392" width="1" height="10" fill="#000" />
<rect x="469" y="396" width="5" height="1" fill="#000" />
<rect x="479" y="396" width="1" height="19" fill="#000" />
<rect x="477" y="397" width="5" height="10" fill="#000" />
<rect x="487" y="379" width="1" height="31" fill="#000" />
<rect x="485" y="390" width="5" height="17" fill="#000" />
<rect x="486" y="391" width="3" height="15" fill="#fff" />
<rect x="495" y="381" width="1" height="13" fill="#000" />
<rect x="493" y="390" width="5" height="1" fill="#000" />
<rect x="503" y="378" width="1" height="17" fill="#000" />
<rect x="501" y="389" width="5" height="1" fill="#000" />
<rect x="511" y="311" width="1" height="83" fill="#000" />
<rect x="509" y="315" width="5" height="75" fill="#000" />
<rect x="510" y="316" width="3" height="73" fill="#fff" />
<rect x="519" y="284" width="1" height="42" fill="#000" />
<rect x="517" y="288" width="5" height="28" fill="#000" />
<rect x="518" y="289" width="3" height="26" fill="#fff" />
<rect x="527" y="287" width="1" height="16" fill="#000" />
<rect x="525" y="288" width="5" height="12" fill="#000" />
<rect x="535" y="287" width="1" height="14" fill="#000" />
<rect x="533" y="292" width="5" height="8" fill="#000" />
<rect x="534" y="293" width="3" height="6" fill="#fff" />
<rect x="543" y="282" width="1" height="14" fill="#000" />
<rect x="541" y="286" width="5" height="7" fill="#000" />
<rect x="542" y="287" width="3" height="5" fill="#fff" />
<rect x="551" y="186" width="1" height="119" fill="#000" />
<rect x="549" y="198" width="5" height="88" fill="#000" />
<rect x="550" y="199" width="3" height="86" fill="#fff" />
<rect x="559" y="171" width="1" height="48" fill="#000" />
<rect x="557" y="180" width="5" height="19" fill="#000" />
<rect x="558" y="181" width="3" height="17" fill="#fff" />
<rect x="567" y="178" width="1" height="18" fill="#000" />
<rect x="565" y="180" width="5" height="9" fill="#000" />
<rect x="575" y="196" width="1" height="12" fill="#000" />
<rect x="573" y="196" width="5" height="11" fill="#000" />
<rect x="583" y="206" width="1" height="22" fill="#000" />
<rect x="581" y="206" width="5" height="13" fill="#000" />
<rect x="591" y="212" width="1" height="29" fill="#000" />
<rect x="589" y="218" width="5" height="19" fill="#000" />
<rect x="599" y="228" width="1" height="19" fill="#000" />
<rect x="597" y="236" width="5" height="8" fill="#000" />
<rect x="607" y="200" width="1" height="54" fill="#000" />
<rect x="605" y="217" width="5" height="27" fill="#000" />
<rect x="606" y="218" width="3" height="25" fill="#fff" />
<rect x="615" y="216" width="1" height="25" fill="#000" />
<rect x="613" y="217" width="5" height="14" fill="#000" />
<rect x="623" y="205" width="1" height="29" fill="#000" />
<rect x="621" y="212" width="5" height="20" fill="#000" />
<rect x="622" y="213" width="3" height="18" fill="#fff" />
<rect x="631" y="201" width="1" height="17" fill="#000" />
<rect x="629" y="213" width="5" height="1" fill="#000" />
<rect x="639" y="181" width="1" height="37" fill="#000" />
<rect x="637" y="201" width="5" height="13" fill="#000" />
<rect x="638" y="202" width="3" height="11" fill="#fff" />
<rect x="647" y="189" width="1" height="31" fill="#000" />
<rect x="645" y="201" width="5" height="7" fill="#000" />
<rect x="655" y="122" width="1" height="89" fill="#000" />
<rect x="653" y="147" width="5" height="61" fill="#000" />
<rect x="654" y="148" width="3" height="59" fill="#fff" />
<rect x="663" y="125" width="1" height="31" fill="#000" />
<rect x="661" y="129" width="5" height="19" fill="#000" />
<rect x="662" y="130" width="3" height="17" fill="#fff" />
<rect x="671" y="127" width="1" height="14" fill="#000" />
<rect x="669" y="129" width="5" height="12" fill="#000" />
<rect x="679" y="138" width="1" height="18" fill="#000" />
<rect x="677" y="139" width="5" height="9" fill="#000" />
<rect x="687" y="132" width="1" height="49" fill="#000" />
<rect x="685" y="146" width="5" height="21" fill="#000" />
<rect x="695" y="131" width="1" height="54" fill="#000" />
<rect x="693" y="150" width="5" height="17" fill="#000" />
<rect x="694" y="151" width="3" height="15" fill="#fff" />
<rect x="703" y="98" width="1" height="55" fill="#000" />
<rect x="701" y="110" width="5" height="41" fill="#000" />
<rect x="702" y="111" width="3" height="39" fill="#fff" />
<rect x="711" y="103" width="1" height="26" fill="#000" />
<rect x="709" y="111" width="5" height="7" fill="#000" />
<rect x="719" y="115" width="1" height="9" fill="#000" />
<rect x="717" y="117" width="5" height="7" fill="#000" />
<rect x="727" y="114" width="1" height="12" fill="#000" />
<rect x="725" y="118" width="5" height="6" fill="#000" />
<rect x="726" y="119" width="3" height="4" fill="#fff" />
<rect x="735" y="118" width="1" height="29" fill="#000" />
<rect x="733" y="118" width="5" height="12" fill="#000" />
<rect x="743" y="49" width="1" height="85" fill="#000" />
<rect x="741" y="110" width="5" height="20" fill="#000" />
<rect x="742" y="111" width="3" height="18" fill="#fff" />
<rect x="751" y="105" width="1" height="41" fill="#000" />
<rect x="749" y="108" width="5" height="10" fill="#000" />
<rect x="759" y="101" width="1" height="21" fill="#000" />
<rect x="757" y="106" width="5" height="14" fill="#000" />
<rect x="758" y="107" width="3" height="12" fill="#fff" />
<rect x="767" y="97" width="1" height="15" fill="#000" />
<rect x="765" y="106" width="5" height="5" fill="#000" />
<rect x="775" y="104" width="1" height="16" fill="#000" />
<rect x="773" y="110" width="5" height="8" fill="#000" />
<rect x="783" y="101" width="1" height="21" fill="#000" />
<rect x="781" y="105" width="5" height="12" fill="#000" />
<rect x="782" y="106" width="3" height="10" fill="#fff" />
<rect x="791" y="86" width="1" height="23" fill="#000" />
<rect x="789" y="102" width="5" height="4" fill="#000" />
<rect x="790" y="103" width="3" height="2" fill="#fff" />
<rect x="799" y="96" width="1" height="23" fill="#000" />
<rect x="797" y="102" width="5" height="1" fill="#000" />
<rect x="807" y="79" width="1" height="30" fill="#000" />
<rect x="805" y="86" width="5" height="17" fill="#000" />
<rect x="806" y="87" width="3" height="15" fill="#fff" />
<rect x="815" y="103" width="1" height="6" fill="#000" />
<rect x="813" y="104" width="5" height="3" fill="#000" />
<rect x="823" y="94" width="1" height="13" fill="#000" />
<rect x="821" y="97" width="5" height="9" fill="#000" />
<rect x="822" y="98" width="3" height="7" fill="#fff" />
<rect x="831" y="79" width="1" height="30" fill="#000" />
<rect x="829" y="80" width="5" height="18" fill="#000" />
<rect x="830" y="81" width="3" height="16" fill="#fff" />
<rect x="839" y="54" width="1" height="27" fill="#000" />
<rect x="837" y="61" width="5" height="20" fill="#000" />
<rect x="838" y="62" width="3" height="18" fill="#fff" />
<rect x="847" y="58" width="1" height="22" fill="#000" />
<rect x="845" y="61" width="5" height="8" fill="#000" />
<rect x="855" y="67" width="1" height="13" fill="#000" />
<rect x="853" y="68" width="5" height="5" fill="#000" />
<rect x="863" y="70" width="1" height="7" fill="#000" />
<rect x="861" y="70" width="5" height="3" fill="#000" />
<rect x="862" y="71" width="3" height="1" fill="#fff" />
<rect x="871" y="62" width="1" height="10" fill="#000" />
<rect x="869" y="66" width="5" height="5" fill="#000" />
<rect x="870" y="67" width="3" height="3" fill="#fff" />
<rect x="879" y="63" width="1" height="28" fill="#000" />
<rect x="877" y="67" width="5" height="17" fill="#000" />
<rect x="887" y="72" width="1" height="22" fill="#000" />
<rect x="885" y="83" width="5" height="4" fill="#000" />
<rect x="895" y="78" width="1" height="26" fill="#000" />
<rect x="893" y="83" width="5" height="3" fill="#000" />
<rect x="894" y="84" width="3" height="1" fill="#fff" />
<rect x="903" y="62" width="1" height="56" fill="#000" />
<rect x="901" y="83" width="5" height="22" fill="#000" />
<rect x="911" y="102" width="1" height="15" fill="#000" />
<rect x="909" y="103" width="5" height="6" fill="#000" />
<rect x="919" y="107" width="1" height="26" fill="#000" />
<rect x="917" y="108" width="5" height="22" fill="#000" />
<rect x="927" y="111" width="1" height="20" fill="#000" />
<rect x="925" y="122" width="5" height="9" fill="#000" />
<rect x="926" y="123" width="3" height="7" fill="#fff" />
<rect x="935" y="111" width="1" height="19" fill="#000" />
<rect x="933" y="114" width="5" height="9" fill="#000" />
<rect x="934" y="115" width="3" height="7" fill="#fff" />
<rect x="943" y="97" width="1" height="20" fill="#000" />
<rect x="941" y="100" width="5" height="16" fill="#000" />
<rect x="942" y="101" width="3" height="14" fill="#fff" />
<rect x="951" y="86" width="1" height="21" fill="#000" />
<rect x="949" y="88" width="5" height="13" fill="#000" />
<rect x="950" y="89" width="3" height="11" fill="#fff" />
<rect x="959" y="85" width="1" height="8" fill="#000" />
<rect x="957" y="87" width="5" height="2" fill="#000" />
<rect x="967" y="86" width="1" height="9" fill="#000" />
<rect x="965" y="88" width="5" height="4" fill="#000" />
<rect x="975" y="75" width="1" height="21" fill="#000" />
<rect x="973" y="91" width="5" height="3" fill="#000" />
<rect x="983" y="91" width="1" height="15" fill="#000" />
<rect x="981" y="94" width="5" height="5" fill="#000" />
<rect x="991" y="87" width="1" height="46" fill="#000" />
<rect x="989" y="96" width="5" height="34" fill="#000" />
<rect x="999" y="108" width="1" height="32" fill="#000" />
<rect x="997" y="115" width="5" height="15" fill="#000" />
<rect x="998" y="116" width="3" height="13" fill="#fff" />
<rect x="1007" y="113" width="1" height="9" fill="#000" />
<rect x="1005" y="115" width="5" height="6" fill="#000" />
<rect x="1015" y="111" width="1" height="10" fill="#000" />
<rect x="1013" y="115" width="5" height="5" fill="#000" />
<rect x="1014" y="116" width="3" height="3" fill="#fff" />
<rect x="1023" y="107" width="1" height="18" fill="#000" />
<rect x="1021" y="115" width="5" height="5" fill="#000" />
<rect x="1031" y="111" width="1" height="20" fill="#000" />
<rect x="1029" y="118" width="5" height="9" fill="#000" />
<rect x="1039" y="114" width="1" height="20" fill="#000" />
<rect x="1037" y="115" width="5" height="12" fill="#000" />
<rect x="1038" y="116" width="3" height="10" fill="#fff" />
<rect x="1047" y="114" width="1" height="8" fill="#000" />
<rect x="1045" y="115" width="5" height="6" fill="#000" />
<rect x="1055" y="118" width="1" height="3" fill="#000" />
<rect x="1053" y="118" width="5" height="1" fill="#000" />
<rect x="1063" y="117" width="1" height="5" fill="#000" />
<rect x="1061" y="117" width="5" height="3" fill="#000" />
<rect x="1071" y="109" width="1" height="12" fill="#000" />
<rect x="1069" y="110" width="5" height="11" fill="#000" />
<rect x="1070" y="111" width="3" height="9" fill="#fff" />
<rect x="1079" y="105" width="1" height="17" fill="#000" />
<rect x="1077" y="111" width="5" height="6" fill="#000" />
<rect x="1087" y="92" width="1" height="26" fill="#000" />
<rect x="1085" y="94" width="5" height="23" fill="#000" />
<rect x="1086" y="95" width="3" height="21" fill="#fff" />
<rect x="1095" y="91" width="1" height="8" fill="#000" />
<rect x="1093" y="94" width="5" height="3" fill="#000" />
<rect x="1103" y="94" width="1" height="8" fill="#000" />
<rect x="1101" y="97" width="5" height="1" fill="#000" />
<rect x="1111" y="91" width="1" height="14" fill="#000" />
<rect x="1109" y="96" width="5" height="5" fill="#000" />
<rect x="1119" y="95" width="1" height="14" fill="#000" />
<rect x="1117" y="100" width="5" height="7" fill="#000" />
<rect x="1127" y="91" width="1" height="29" fill="#000" />
<rect x="1125" y="100" width="5" height="6" fill="#000" />
<rect x="1126" y="101" width="3" height="4" fill="#fff" />
<rect x="1135" y="83" width="1" height="24" fill="#000" />
<rect x="1133" y="86" width="5" height="15" fill="#000" />
<rect x="1134" y="87" width="3" height="13" fill="#fff" />
<rect x="1143" y="85" width="1" height="20" fill="#000" />
<rect x="1141" y="85" width="5" height="18" fill="#000" />
<rect x="1151" y="95" width="1" height="8" fill="#000" />
<rect x="1149" y="97" width="5" height="6" fill="#000" />
<rect x="1150" y="98" width="3" height="4" fill="#fff" />
<rect x="1159" y="96" width="1" height="6" fill="#000" />
<rect x="1157" y="97" width="5" height="4" fill="#000" />
<rect x="1167" y="87" width="1" height="15" fill="#000" />
<rect x="1165" y="88" width="5" height="13" fill="#000" />
<rect x="1166" y="89" width="3" height="11" fill="#fff" />
<rect x="1175" y="84" width="1" height="15" fill="#000" />
<rect x="1173" y="88" width="5" height="1" fill="#000" />
<rect x="1183" y="84" width="1" height="14" fill="#000" />
<rect x="1181" y="87" width="5" height="9" fill="#000" />
<rect x="1191" y="83" width="1" height="19" fill="#000" />
<rect x="1189" y="86" width="5" height="10" fill="#000" />
<rect x="1190" y="87" width="3" height="8" fill="#fff" />
<rect x="1199" y="83" width="1" height="8" fill="#000" />
<rect x="1197" y="86" width="5" height="3" fill="#000" />
<rect x="1207" y="80" width="1" height="10" fill="#000" />
<rect x="1205" y="84" width="5" height="4" fill="#000" />
<rect x="1206" y="85" width="3" height="2" fill="#fff" />
<rect x="1215" y="78" width="1" height="10" fill="#000" />
<rect x="1213" y="82" width="5" height="3" fill="#000" />
<rect x="1214" y="83" width="3" height="1" fill="#fff" />
<rect x="1223" y="77" width="1" height="23" fill="#000" />
<rect x="1221" y="83" width="5" height="10" fill="#000" />
<rect x="1231" y="87" width="1" height="22" fill="#000" />
<rect x="1229" y="92" width="5" height="13" fill="#000" />
<rect x="1239" y="103" width="1" height="12" fill="#000" />
<rect x="1237" y="104" width="5" height="2" fill="#000" />
<rect x="1247" y="103" width="1" height="6" fill="#000" />
<rect x="1245" y="104" width="5" height="5" fill="#000" />
<rect x="1255" y="96" width="1" height="13" fill="#000" />
<rect x="1253" y="100" width="5" height="9" fill="#000" />
<rect x="1254" y="101" width="3" height="7" fill="#fff" />
<rect x="1263" y="98" width="1" height="7" fill="#000" />
<rect x="1261" y="99" width="5" height="2" fill="#000" />
<rect x="1271" y="97" width="1" height="10" fill="#000" />
<rect x="1269" y="99" width="5" height="3" fill="#000" />
<rect x="1279" y="94" width="1" height="15" fill="#000" />
<rect x="1277" y="98" width="5" height="4" fill="#000" />
<rect x="1278" y="99" width="3" height="2" fill="#fff" />
<rect x="1287" y="95" width="1" height="9" fill="#000" />
<rect x="1285" y="98" width="5" height="1" fill="#000" />
</g>
<polyline class="cr" clip-path="url(#cm)" points="0,285 8,288.5 14,290 23,295.5 68,295.5 78,297.5 88,304 111,316 119,321.5 127,325.5 135,326 148,328 155,327.5 161,327.5 168,329 171,326 175,324.5 185,324 197,325.5 208,324.5 219,323 228,323.5 237,324.5 250,323.5 268,323.5 278,326 292,331 303,334 309,337 319,345 327,353 336,353.5 351,360 359,363 367,365 375,366.5 385,367.5 399,366.5 404,363 409,359.5 415,355.5 427,355.5 440,357.5 460,360 479,362.5 495,365 503,365.5 505,364.5 509,350 513,339.5 518,327 521,318.7 533.5,300 543,282.5 548.5,257.5 553.5,232.5 557,220 560,210 567,190.5 575,170.5 581,160.5 584,155.5 592,146.5 599,143 607,136.5 616,131.5 623,127 628,125.5 635,125.5 642,128 647,129.5 652,128.5 655,127.5 660,127.5 663,128.5 667,126 673,120 679,116.5 684,116 688,117 696,117 703,112 711,102.5 719,95.5 727,88 735,82 741,77 746,74 751,72.5 759,71 767,69 775,71 783,71.5 791,74.5 799,77 804,80.5 807,82.5 817,82.5 819,81 827,77.5 832,74.5 837,68 839,65.5 847,65.5 855,64.5 863,61 871,56.5 879,56 887,55 896,56.5 903,56.5 909,57.5 915,57 923,54.5 935,54 945,54 955,53 963,53 967,54 975,54.5 985,54 988,53 992,53 999,57 1007,60.5 1015,64 1020,66 1023,67.5 1031,73.5 1039,77.5 1047,80.5 1055,83.5 1063,85.5 1071,85.5 1079,85.5 1088,84 1093,83 1106,83 1111,84 1119,86.5 1127,88.5 1135,86 1143,87 1151,87.5 1159,86.5 1167,83.5 1170,83 1179,80.5 1191,80 1199,78 1207,76.5 1212,76 1217,76.5 1219,77.5 1223,78 1233,78 1235,79 1238,80 1243,80 1244,79 1275,79 1277,80 1287,80" fill="none" stroke="#3cb371" stroke-width="1"/>
<polyline class="cr" clip-path="url(#cm)" points="0,313.5 8,315 14,317 23,319.5 40,323 55,326 63,328 78,329.5 87,332 103,335.5 111,337.5 119,339 127,340.5 140,341.5 168,341.5 175,343.5 190,344.5 208,347 228,350 247,354 263,356.5 279,359.5 295,364 311,368 319,371 335,373.5 351,376 359,377 380,377.5 399,377.5 407,380.5 415,382 423,383.5 431,386 439,387.5 455,390.5 471,392 479,393 487,392.5 495,394 503,394.5 507,393.5 513,390 527,382.5 544,373.5 552,364 560,353.5 580,327 600,305.6 619,284 637.5,261 649,248 656,236 664,225 668,220.6 676,211.5 685,204 688,202.5 693,198 700,191 704,186.5 711,183.5 719,180.5 727,177.5 735,174 743,168 751,161.5 759,154.5 767,149.5 775,143.5 783,138 791,133 800.5,126 805.5,122.5 810,120.5 819,119 827,117 832,115 837,112 843,108.5 850.5,104.5 855.5,102 863,100 871,97.5 879,95 887,93 895,91 903,90 911,90 919,91 927,92.5 935,92.5 943,91.5 951,90.5 959,89.5 967,90 975,90.5 985,90.5 991,92.5 999,96 1007,98 1015,100 1023,102.5 1031,105 1039,107.5 1047,108.5 1055,110 1063,111.5 1071,111.5 1076,109.5 1090,108.5 1107,108.5 1115,109.5 1140,109.5 1150,108.5 1159,107 1167,105.5 1175,104 1183,102.5 1191,101 1199,99.5 1207,98 1215,97 1223,95.5 1231,94.5 1236,94.5 1240,95 1245,95.5 1287,95" fill="none" stroke="#3cb371" stroke-width="1"/>
<polyline class="cr" clip-path="url(#cm)" points="0,340.5 14,343 23,344 31,347 47,352 55,354 63,358 68,359.5 106,359.5 111,358.5 124,355.5 140,354.5 168,354.5 175,362.5 183,363.5 197,366.5 205,369 215,372.5 228,377 239,380.5 253,385.5 263,390 271,391 279,391.5 292,394 303,395.5 312,395.5 319,394 327,391 335,391.5 345,390 351,391.5 359,389.5 370,388.5 395,388.5 400,390.5 404,395 407,398.5 411,402 418,406.5 423,409.5 431,413 439,417.5 447,419.5 455,420.5 471,422.5 479,423 503,423 507,427 510,432 511,434" fill="none" stroke="#3cb371" stroke-width="1"/>
<polyline class="cr" clip-path="url(#cm)" points="622,434 622.5,432.7 631,415 641,387.5 650,362.5 656,345 662,330 664,322.5 671,311 680,303 687.5,287.5 695,273.7 703,262 710,264.4 717.5,265 726,266.5 732.5,264.4 744,259 752.5,250 759,238 768,229.4 775.5,215 783,205 792,191 798,181 803,168.7 807,160.4 814,157.7 825.5,156 839,154.4 844,148.7 850.5,142.5 855.5,138 860.5,139.4 868,139 875.5,136.9 883,134.4 890.5,130.3 896,126 903,124.5 911,123 915,124.5 919,127 923,129.5 927,130.5 935,130.5 943,129 951,128 959,127 967,127 975,126 983,126 987,128 991,132 998,134 1006,135.5 1015,137 1023,136.5 1031,137.5 1039,137 1047,136.5 1055,137 1063,137.5 1071,137 1079,136 1090,135.5 1100,134 1115,132.5 1131,132.5 1146,132.5 1151,131 1159,129.5 1167,129 1175,128.5 1183,127.5 1187,126 1191,124.5 1195,123 1199,122 1203,120.5 1207,119.5 1215,117.5 1219,116 1223,114 1227,113 1235,112 1287,111" fill="none" stroke="#3cb371" stroke-width="1"/>
<g class="cr">
<rect x="223" y="65" width="1402" height="2" fill="#ff0000" />
<rect x="223" y="81" width="1402" height="2" fill="#ff0000" />
<rect x="223" y="109" width="1402" height="2" fill="#00ff7f" />
<rect x="0" y="121" width="1625" height="2" fill="#0000ff" />
<rect x="0" y="133" width="1625" height="2" fill="#0000ff" />
<rect x="1223" y="108" width="75" height="5" fill="#00ff00" />
<rect x="1619" y="79" width="6" height="6" fill="#ff0000" />
<rect x="1621" y="81" width="2" height="2" fill="#fff" />
<rect x="1619" y="107" width="6" height="6" fill="#00ff7f" />
<rect x="1621" y="109" width="2" height="2" fill="#fff" />
<rect x="1619" y="119" width="6" height="6" fill="#0000ff" />
<rect x="1621" y="121" width="2" height="2" fill="#fff" />
<rect x="1619" y="131" width="6" height="6" fill="#0000ff" />
<rect x="1621" y="133" width="2" height="2" fill="#fff" />
<rect x="-2" y="119" width="6" height="6" fill="#0000ff" />
<rect x="0" y="121" width="2" height="2" fill="#fff" />
<rect x="-2" y="131" width="6" height="6" fill="#0000ff" />
<rect x="0" y="133" width="2" height="2" fill="#fff" />
<rect x="1440" y="110" width="8" height="1" fill="#ff0000" />
<rect x="1447" y="108" width="4" height="5" fill="#ff0000" />
<rect x="1448" y="109" width="2" height="3" fill="#fff" />
<rect x="1450.5" y="98.5" width="73" height="24" fill="none" stroke="#ff0000" stroke-width="1"/>
</g>
<text x="1452.3" y="119" font-size="21.8" fill="#ff0000" textLength="70.5" lengthAdjust="spacingAndGlyphs" stroke="#ff0000" stroke-width="0.45">139.668</text>
<polygon points="1293,30 1303,30 1298,35" fill="#c0c0c0"/>
<text x="1371.1" y="182.4" font-size="30.3" font-weight="600" class="serif" fill="#0a300a" letter-spacing="2.8" transform="translate(1,1)">多空转折点</text>
<text x="1371.1" y="182.4" font-size="30.3" font-weight="600" class="serif" fill="#14f000" letter-spacing="2.8">多空转折点</text>
<g class="cr">
<rect x="0" y="29" width="1626" height="1" fill="#000" />
<rect x="1625" y="29" width="1" height="810" fill="#000" />
<rect x="0" y="433" width="1626" height="1" fill="#000" />
<rect x="1625" y="434" width="1" height="1" fill="#fff" />
<rect x="0" y="435" width="1626" height="1" fill="#000" />
<rect x="0" y="636" width="1626" height="1" fill="#000" />
<rect x="1625" y="637" width="1" height="1" fill="#fff" />
<rect x="0" y="638" width="1626" height="1" fill="#000" />
<rect x="0" y="838" width="1627" height="1" fill="#000" />
<rect x="1626" y="34" width="3" height="1" fill="#000" />
<rect x="1626" y="166" width="3" height="1" fill="#000" />
<rect x="1626" y="199" width="3" height="1" fill="#000" />
<rect x="1626" y="232" width="3" height="1" fill="#000" />
<rect x="1626" y="265" width="3" height="1" fill="#000" />
<rect x="1626" y="298" width="3" height="1" fill="#000" />
<rect x="1626" y="331" width="3" height="1" fill="#000" />
<rect x="1626" y="364" width="3" height="1" fill="#000" />
<rect x="1626" y="397" width="3" height="1" fill="#000" />
<rect x="1626" y="430" width="3" height="1" fill="#000" />
<rect x="1626" y="66" width="2" height="1" fill="#000" />
<rect x="1626" y="82" width="2" height="1" fill="#000" />
<rect x="1626" y="98" width="2" height="1" fill="#000" />
<rect x="1626" y="110" width="2" height="1" fill="#000" />
<rect x="1626" y="122" width="2" height="1" fill="#000" />
<rect x="1626" y="134" width="2" height="1" fill="#000" />
<rect x="1626" y="437" width="2" height="1" fill="#000" />
<rect x="1626" y="588" width="2" height="1" fill="#000" />
<rect x="1626" y="635" width="2" height="1" fill="#000" />
<rect x="1626" y="640" width="2" height="1" fill="#000" />
<rect x="1626" y="837" width="2" height="1" fill="#000" />
<rect x="-1" y="839" width="1" height="3" fill="#000" />
<rect x="63" y="839" width="1" height="3" fill="#000" />
<rect x="127" y="839" width="1" height="3" fill="#000" />
<rect x="191" y="839" width="1" height="3" fill="#000" />
<rect x="255" y="839" width="1" height="3" fill="#000" />
<rect x="319" y="839" width="1" height="3" fill="#000" />
<rect x="383" y="839" width="1" height="3" fill="#000" />
<rect x="447" y="839" width="1" height="3" fill="#000" />
<rect x="511" y="839" width="1" height="3" fill="#000" />
<rect x="575" y="839" width="1" height="3" fill="#000" />
<rect x="639" y="839" width="1" height="3" fill="#000" />
<rect x="703" y="839" width="1" height="3" fill="#000" />
<rect x="767" y="839" width="1" height="3" fill="#000" />
<rect x="831" y="839" width="1" height="3" fill="#000" />
<rect x="895" y="839" width="1" height="3" fill="#000" />
<rect x="959" y="839" width="1" height="3" fill="#000" />
<rect x="1023" y="839" width="1" height="3" fill="#000" />
<rect x="1087" y="839" width="1" height="3" fill="#000" />
<rect x="1151" y="839" width="1" height="3" fill="#000" />
<rect x="1215" y="839" width="1" height="3" fill="#000" />
<rect x="1279" y="839" width="1" height="3" fill="#000" />
</g>
<text x="1630.7" y="38" font-size="10" fill="#000" textLength="33.8" lengthAdjust="spacingAndGlyphs" >141.930</text>
<text x="1630.7" y="170" font-size="10" fill="#000" textLength="33.8" lengthAdjust="spacingAndGlyphs" >138.005</text>
<text x="1630.7" y="203" font-size="10" fill="#000" textLength="33.8" lengthAdjust="spacingAndGlyphs" >137.030</text>
<text x="1630.7" y="236" font-size="10" fill="#000" textLength="33.8" lengthAdjust="spacingAndGlyphs" >136.055</text>
<text x="1630.7" y="269" font-size="10" fill="#000" textLength="33.8" lengthAdjust="spacingAndGlyphs" >135.080</text>
<text x="1630.7" y="302" font-size="10" fill="#000" textLength="33.8" lengthAdjust="spacingAndGlyphs" >134.105</text>
<text x="1630.7" y="335" font-size="10" fill="#000" textLength="33.8" lengthAdjust="spacingAndGlyphs" >133.130</text>
<text x="1630.7" y="368" font-size="10" fill="#000" textLength="33.8" lengthAdjust="spacingAndGlyphs" >132.155</text>
<text x="1630.7" y="401" font-size="10" fill="#000" textLength="33.8" lengthAdjust="spacingAndGlyphs" >131.180</text>
<text x="1630.7" y="434" font-size="10" fill="#000" textLength="33.8" lengthAdjust="spacingAndGlyphs" >130.205</text>
<rect x="1627" y="60" width="38" height="11" fill="#ff0000" class="cr"/>
<text x="1630.7" y="69" font-size="10" fill="#fff" textLength="33.8" lengthAdjust="spacingAndGlyphs" >140.967</text>
<rect x="1627" y="76" width="38" height="11" fill="#ff0000" class="cr"/>
<text x="1630.7" y="85" font-size="10" fill="#fff" textLength="33.8" lengthAdjust="spacingAndGlyphs" >140.495</text>
<rect x="1627" y="93" width="38" height="11" fill="#000000" class="cr"/>
<text x="1630.7" y="102" font-size="10" fill="#fff" textLength="33.8" lengthAdjust="spacingAndGlyphs" >140.026</text>
<rect x="1627" y="104" width="38" height="11" fill="#00ff7f" class="cr"/>
<text x="1630.7" y="113" font-size="10" fill="#fff" textLength="33.8" lengthAdjust="spacingAndGlyphs" >139.668</text>
<rect x="1627" y="116" width="38" height="11" fill="#0000ff" class="cr"/>
<text x="1630.7" y="125" font-size="10" fill="#fff" textLength="33.8" lengthAdjust="spacingAndGlyphs" >139.313</text>
<rect x="1627" y="128" width="38" height="11" fill="#0000ff" class="cr"/>
<text x="1630.7" y="137" font-size="10" fill="#fff" textLength="33.8" lengthAdjust="spacingAndGlyphs" >138.959</text>
<text x="1628.7" y="446" font-size="10" fill="#000" textLength="28.8" lengthAdjust="spacingAndGlyphs" >1.5153</text>
<text x="1628.7" y="592" font-size="10" fill="#000" textLength="18.8" lengthAdjust="spacingAndGlyphs" >0.00</text>
<text x="1628.7" y="633" font-size="10" fill="#000" textLength="31.8" lengthAdjust="spacingAndGlyphs" >-0.4789</text>
<text x="1628.7" y="649" font-size="10" fill="#000" textLength="15.8" lengthAdjust="spacingAndGlyphs" >100</text>
<text x="1628.7" y="683" font-size="10" fill="#000" textLength="10.8" lengthAdjust="spacingAndGlyphs" >80</text>
<text x="1628.7" y="742" font-size="10" fill="#000" textLength="10.8" lengthAdjust="spacingAndGlyphs" >50</text>
<text x="1628.7" y="812" font-size="10" fill="#000" textLength="10.8" lengthAdjust="spacingAndGlyphs" >15</text>
<text x="1628.7" y="835" font-size="10" fill="#000" textLength="5.8" lengthAdjust="spacingAndGlyphs" >0</text>
<text x="-2.3" y="851" font-size="10" fill="#000" textLength="51.8" lengthAdjust="spacingAndGlyphs" >25 Sep 2019</text>
<text x="61.7" y="851" font-size="10" fill="#000" textLength="54.8" lengthAdjust="spacingAndGlyphs" >27 Sep 04:00</text>
<text x="125.7" y="851" font-size="10" fill="#000" textLength="54.8" lengthAdjust="spacingAndGlyphs" >30 Sep 12:00</text>
<text x="189.7" y="851" font-size="10" fill="#000" textLength="47.8" lengthAdjust="spacingAndGlyphs" >1 Oct 20:00</text>
<text x="253.7" y="851" font-size="10" fill="#000" textLength="47.8" lengthAdjust="spacingAndGlyphs" >3 Oct 04:00</text>
<text x="317.7" y="851" font-size="10" fill="#000" textLength="47.8" lengthAdjust="spacingAndGlyphs" >4 Oct 12:00</text>
<text x="381.7" y="851" font-size="10" fill="#000" textLength="47.8" lengthAdjust="spacingAndGlyphs" >7 Oct 20:00</text>
<text x="445.7" y="851" font-size="10" fill="#000" textLength="47.8" lengthAdjust="spacingAndGlyphs" >9 Oct 04:00</text>
<text x="509.7" y="851" font-size="10" fill="#000" textLength="52.8" lengthAdjust="spacingAndGlyphs" >10 Oct 12:00</text>
<text x="573.7" y="851" font-size="10" fill="#000" textLength="52.8" lengthAdjust="spacingAndGlyphs" >13 Oct 23:00</text>
<text x="637.7" y="851" font-size="10" fill="#000" textLength="52.8" lengthAdjust="spacingAndGlyphs" >15 Oct 04:00</text>
<text x="701.7" y="851" font-size="10" fill="#000" textLength="52.8" lengthAdjust="spacingAndGlyphs" >16 Oct 12:00</text>
<text x="765.7" y="851" font-size="10" fill="#000" textLength="52.8" lengthAdjust="spacingAndGlyphs" >17 Oct 20:00</text>
<text x="829.7" y="851" font-size="10" fill="#000" textLength="52.8" lengthAdjust="spacingAndGlyphs" >21 Oct 04:00</text>
<text x="893.7" y="851" font-size="10" fill="#000" textLength="52.8" lengthAdjust="spacingAndGlyphs" >22 Oct 12:00</text>
<text x="957.7" y="851" font-size="10" fill="#000" textLength="52.8" lengthAdjust="spacingAndGlyphs" >23 Oct 20:00</text>
<text x="1021.7" y="851" font-size="10" fill="#000" textLength="52.8" lengthAdjust="spacingAndGlyphs" >25 Oct 04:00</text>
<text x="1085.7" y="851" font-size="10" fill="#000" textLength="52.8" lengthAdjust="spacingAndGlyphs" >28 Oct 12:00</text>
<text x="1149.7" y="851" font-size="10" fill="#000" textLength="52.8" lengthAdjust="spacingAndGlyphs" >29 Oct 20:00</text>
<text x="1213.7" y="851" font-size="10" fill="#000" textLength="52.8" lengthAdjust="spacingAndGlyphs" >31 Oct 04:00</text>
<text x="1277.7" y="851" font-size="10" fill="#000" textLength="49.8" lengthAdjust="spacingAndGlyphs" >1 Nov 12:00</text>
<polygon points="2,41 10,41 6,36" fill="#000"/>
<text x="13" y="42" font-size="10.2" fill="#000" textLength="202" lengthAdjust="spacingAndGlyphs" >GBPJPY-,H4  140.031 140.132 139.878 140.026</text>
<text x="3" y="448" font-size="10.2" fill="#000" textLength="128" lengthAdjust="spacingAndGlyphs" >MACD(12,26,9) 0.0192 0.0628</text>
<text x="2.5" y="651" font-size="10.2" fill="#000" textLength="69" lengthAdjust="spacingAndGlyphs" >RSI(14) 50.4492</text>
<rect x="0" y="46" width="223" height="68" fill="#fff" class="cr"/>
<g class="cr">
<rect x="2" y="49" width="52" height="25" fill="url(#gs)"/>
<rect x="169" y="49" width="52" height="25" fill="url(#gs)"/>
<rect x="2" y="73" width="109" height="40" fill="url(#gp)"/>
<rect x="113" y="73" width="108" height="40" fill="url(#gp)"/>
<rect x="2" y="49" width="52" height="1" fill="#1e1ec8"/><rect x="2" y="49" width="1" height="64" fill="#1e1ec8"/>
<rect x="169" y="49" width="52" height="1" fill="#1e1ec8"/><rect x="220" y="49" width="1" height="64" fill="#1414b4"/>
<rect x="6" y="73" width="45" height="1" fill="#9a9af2"/><rect x="173" y="73" width="44" height="1" fill="#9a9af2"/>
<rect x="56" y="49" width="111" height="22" fill="#a6a6a6"/>
<rect x="57" y="50" width="20" height="20" fill="url(#gb)"/><rect x="78" y="50" width="67" height="20" fill="#fff"/><rect x="146" y="50" width="20" height="20" fill="url(#gb)"/>
</g>
<path d="M63.5 58h6l-3 3.5z" fill="#000"/><path d="M152.5 61.5h6l-3-3.5z" fill="#000"/>
<text x="118.8" y="64.3" font-size="12.5" fill="#000" textLength="22.8" lengthAdjust="spacingAndGlyphs">1.00</text>
<text x="14.5" y="65" font-size="12.3" fill="#fff" textLength="25.5" lengthAdjust="spacingAndGlyphs">SELL</text>
<text x="182.6" y="65" font-size="12.3" fill="#fff" textLength="23.2" lengthAdjust="spacingAndGlyphs">BUY</text>
<text x="25.5" y="104" font-size="12.3" font-weight="bold" fill="#fff" textLength="20.8" lengthAdjust="spacingAndGlyphs">140</text>
<text x="50" y="104" font-size="33.5" fill="#fff" textLength="34.5" lengthAdjust="spacingAndGlyphs">02</text>
<text x="89.6" y="88" font-size="12.3" font-weight="bold" fill="#fff" textLength="6.6" lengthAdjust="spacingAndGlyphs">6</text>
<text x="136" y="104" font-size="12.3" font-weight="bold" fill="#fff" textLength="20.6" lengthAdjust="spacingAndGlyphs">140</text>
<text x="160.5" y="104" font-size="33.5" fill="#fff" textLength="33" lengthAdjust="spacingAndGlyphs">07</text>
<text x="199.8" y="88" font-size="12.3" font-weight="bold" fill="#fff" textLength="7.2" lengthAdjust="spacingAndGlyphs">0</text>
</svg></body></html>
